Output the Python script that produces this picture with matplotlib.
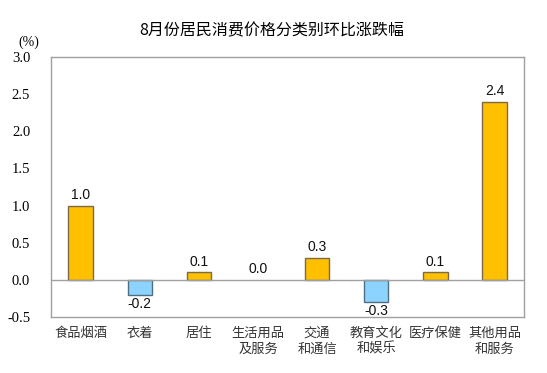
import matplotlib.pyplot as plt

plt.rcParams["font.family"] = ["Noto Sans CJK SC", "DejaVu Sans"]

categories = ["食品烟酒", "衣着", "居住", "生活用品\n及服务", "交通\n和通信",
              "教育文化\n和娱乐", "医疗保健", "其他用品\n和服务"]
values = [1.0, -0.2, 0.1, 0.0, 0.3, -0.3, 0.1, 2.4]
yticks = [-0.5, 0.0, 0.5, 1.0, 1.5, 2.0, 2.5, 3.0]

fig = plt.figure(figsize=(5.47, 3.73), dpi=100)
ax = fig.add_axes([0.0932, 0.150, 0.865, 0.697])

colors = ["#FFC000" if v >= 0 else "#8DD3FF" for v in values]
edges = ["#7a6a4a" if v > 0 else ("#4f6f80" if v < 0 else "none") for v in values]
x = range(len(categories))
ax.bar(x, values, width=0.41, color=colors, edgecolor=edges, linewidth=1.0, zorder=3)
ax.axhline(0, color="#a0a0a0", linewidth=1.0, zorder=4)

for xi, v in zip(x, values):
    if v >= 0:
        ax.text(xi, v + 0.05, f"{v:.1f}", ha="center", va="bottom",
                fontsize=10, family="Liberation Sans", color="#111111")
    else:
        ax.text(xi, v - 0.03, f"{v:.1f}", ha="center", va="top",
                fontsize=10, family="Liberation Sans", color="#111111")

ax.set_xlim(-0.5, len(categories) - 0.5)
ax.set_ylim(-0.5, 3.0)
ax.set_yticks(yticks)
ax.set_yticklabels([f"{t:.1f}" for t in yticks], family="Liberation Serif", fontsize=10.5)
ax.set_xticks(list(x))
ax.set_xticklabels(categories, fontsize=9.5, color="#333333", linespacing=1.3)
ax.tick_params(axis="y", length=0, pad=15)
ax.tick_params(axis="x", length=0, pad=7)
for sp in ax.spines.values():
    sp.set_color("#a0a0a0")
    sp.set_linewidth(1.0)

fig.text(0.053, 0.888, "(%)", family="Liberation Serif", fontsize=10, ha="center", va="center")
fig.text(0.497, 0.917, "8月份居民消费价格分类别环比涨跌幅", fontsize=11.5, ha="center", va="center")

fig.savefig("out.png", dpi=100)
